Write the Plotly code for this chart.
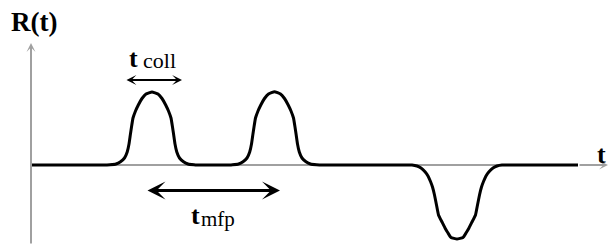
import plotly.graph_objects as go

# Response curve R(t) (t in arbitrary units, R in arbitrary units)
t_vals = [0, 40, 76, 79, 85, 89.5, 93.5, 96.2, 98, 99.3, 100.5, 102, 104.5, 107.3, 111, 115, 121,
          127, 131, 134.7, 137.5, 140, 141.5, 142.7, 144, 145.8, 148.5, 152.5, 157, 163, 166,
          180, 198.5, 201.5, 207.5, 212, 216, 218.7, 220.5, 221.8, 223, 224.5, 227, 229.8, 233.5, 237.5, 243.5,
          249.5, 253.5, 257.2, 260, 262.5, 264, 265.2, 266.5, 268.3, 271, 275, 279.5, 285.5, 288.5,
          330, 381, 386, 390, 394, 397, 399.5, 401.5, 403.5, 405.5, 407.5, 411, 414, 417, 420, 426,
          432, 435, 438, 441, 444.5, 446.5, 448.5, 450.5, 452.5, 455, 458, 462, 466, 471, 510, 547]
r_vals = [0, 0, 0, 0.2, 1, 3.3, 7, 13, 21, 30, 38, 47, 54, 60, 66.5, 71, 73,
          71, 66.5, 60, 54, 47, 38, 30, 21, 13, 7, 3.3, 1, 0.2, 0,
          0, 0, 0.2, 1, 3.3, 7, 13, 21, 30, 38, 47, 54, 60, 66.5, 71, 73.3,
          71, 66.5, 60, 54, 47, 38, 30, 21, 13, 7, 3.3, 1, 0.2, 0,
          0, 0, -1, -3, -6.7, -11, -16.5, -22, -30, -40, -50, -57, -63, -68, -72.5, -74,
          -72.5, -68, -63, -57, -50, -40, -30, -22, -16.5, -11, -6.7, -3, -1, 0, 0, 0]

# Labels
y_label = "R(t)"
x_label = "t"
coll_main, coll_sub = "t", "coll"
mfp_main, mfp_sub = "t", "mfp"

# Interval markers (start, end, level)
coll_span = [94, 151]
coll_level = 85
mfp_span = [115, 249]
mfp_level = -25.5

# Axis extents
x_axis_end = 577
y_axis_top = 122
y_axis_bottom = -80

GRAY = "#a0a0a0"
FONT = "Liberation Serif, Times New Roman, serif"

fig = go.Figure()
fig.add_trace(go.Scatter(x=t_vals, y=r_vals, mode="lines",
                         line=dict(color="black", width=3, shape="spline", smoothing=0.3),
                         hoverinfo="skip", showlegend=False))

# horizontal axis line beneath the curve
fig.add_shape(type="line", x0=0, x1=t_vals[-1], y0=0, y1=0, xref="x", yref="y",
              line=dict(color=GRAY, width=2), layer="below")

ann = []
# axes arrows
ann.append(dict(x=0, y=y_axis_top, ax=0, ay=y_axis_bottom, xref="x", yref="y", axref="x", ayref="y",
                text="", showarrow=True, arrowhead=3, arrowwidth=2, arrowsize=0.75, arrowcolor=GRAY))
ann.append(dict(x=x_axis_end, y=0, ax=t_vals[-1], ay=0, xref="x", yref="y", axref="x", ayref="y",
                text="", showarrow=True, arrowhead=3, arrowwidth=2, arrowsize=0.75, arrowcolor=GRAY))
# interval arrows
ann.append(dict(x=coll_span[1], y=coll_level, ax=coll_span[0], ay=coll_level, xref="x", yref="y",
                axref="x", ayref="y", text="", showarrow=True, arrowside="end+start",
                arrowhead=3, startarrowhead=3, arrowwidth=2.2, arrowsize=0.75, startarrowsize=0.75,
                arrowcolor="black"))
ann.append(dict(x=mfp_span[1], y=mfp_level, ax=mfp_span[0], ay=mfp_level, xref="x", yref="y",
                axref="x", ayref="y", text="", showarrow=True, arrowside="end+start",
                arrowhead=3, startarrowhead=3, arrowwidth=3, arrowsize=1.0, startarrowsize=1.0,
                arrowcolor="black"))
# texts
def txt(x, y, s, size):
    return dict(x=x, y=y, xref="x", yref="y", text=s, showarrow=False, xanchor="center",
                yanchor="middle", font=dict(family=FONT, size=size, color="black"))

ann.append(txt(2.5, 143.5, "<b>" + y_label + "</b>", 27))
ann.append(txt(570, 11, "<b>" + x_label + "</b>", 26))
ann.append(txt(102, 107, "<b>" + coll_main + "</b>", 26))
ann.append(txt(128.5, 104.5, coll_sub, 22))
ann.append(txt(164, -50, "<b>" + mfp_main + "</b>", 26))
ann.append(txt(187, -54, mfp_sub, 21))

fig.update_layout(
    width=610, height=245, margin=dict(l=0, r=0, t=0, b=0),
    paper_bgcolor="white", plot_bgcolor="white",
    xaxis=dict(range=[-31, 579], visible=False, fixedrange=True),
    yaxis=dict(range=[-80, 165], visible=False, fixedrange=True),
    annotations=ann, showlegend=False,
)

fig.write_html("out.html", config={"displayModeBar": False},
               post_script="document.body.style.margin='0';document.body.style.overflow='hidden';")
